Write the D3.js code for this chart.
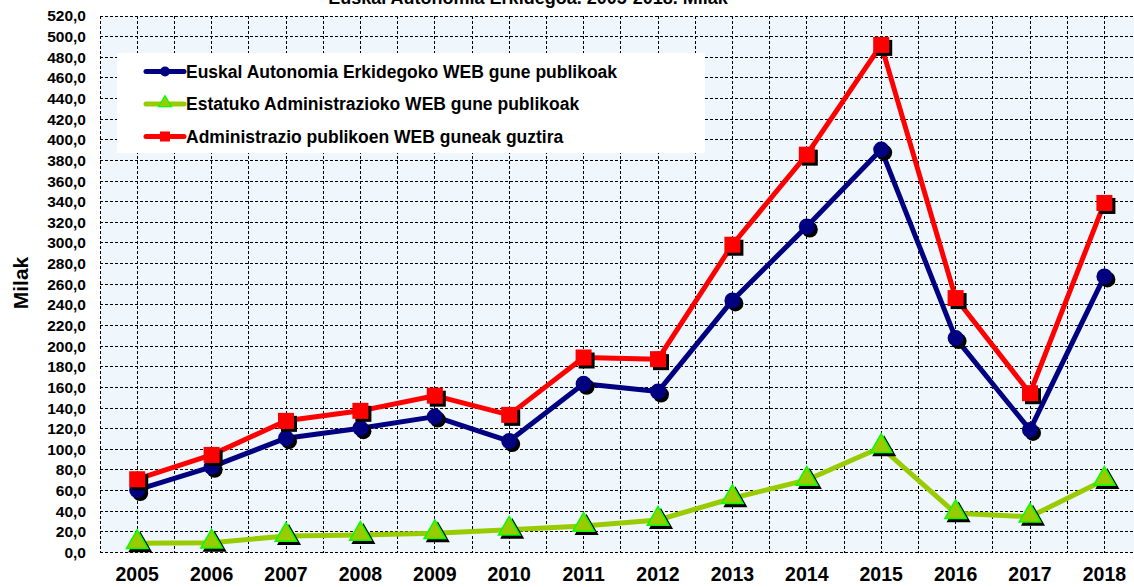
<!DOCTYPE html>
<html>
<head>
<meta charset="utf-8">
<script src="https://cdn.jsdelivr.net/npm/d3@7"></script>
<style>
  body { margin: 0; background: #fff; }
  svg { font-family: "Liberation Sans", Arial, sans-serif; font-weight: bold; }
</style>
</head>
<body>
<div id="chart"></div>
<script>
let years = ["2005", "2006", "2007", "2008", "2009", "2010", "2011", "2012", "2013", "2014", "2015", "2016", "2017", "2018"];
let euskal = [60.6, 83, 110.8, 120.5, 131.7, 108, 163.5, 156, 244.3, 316, 390.5, 207.8, 118.8, 267.6];
let estatuko = [9, 9.5, 16, 17, 18.6, 22, 25.7, 31.5, 52.6, 70.3, 102, 38, 34.7, 70.3];
let guztira = [71, 94.6, 127.6, 137.3, 152, 133.4, 189, 187.4, 298.3, 385.6, 492, 246.6, 154.4, 338.8];
let seriesNames = [
  "Euskal Autonomia Erkidegoko WEB gune publikoak",
  "Estatuko Administrazioko WEB gune publikoak",
  "Administrazio publikoen WEB guneak guztira"
];
let yTicks = d3.range(0, 521, 20);

let svgWidth = 1134;
let svgHeight = 587;

let margin = { top: 16, left: 100 };
let plotRight = 1141.6;
let plotBottom = 552.5;

let svg = d3.select("#chart").append("svg")
  .attr("width", svgWidth)
  .attr("height", svgHeight);

// scales
let xScale = d3.scaleBand()
  .domain(years)
  .range([margin.left, plotRight]);

let yScale = d3.scaleLinear()
  .domain([0, 520])
  .range([plotBottom, margin.top]);

let xc = d => xScale(d) + xScale.bandwidth() / 2;

// plot background
svg.append("rect")
  .attr("x", margin.left)
  .attr("y", margin.top)
  .attr("width", plotRight - margin.left)
  .attr("height", plotBottom - margin.top)
  .attr("fill", "#eff7fd");

// horizontal grid
svg.append("g").selectAll("line")
  .data(yTicks)
  .enter().append("line")
  .attr("x1", margin.left).attr("x2", plotRight)
  .attr("y1", d => yScale(d)).attr("y2", d => yScale(d))
  .attr("stroke", "#000").attr("stroke-width", 1)
  .attr("stroke-dasharray", "3,2")
  .attr("shape-rendering", "crispEdges");

// vertical grid: category edges and centers
let vLines = [];
years.forEach(y => { vLines.push(xScale(y)); vLines.push(xc(y)); });
vLines.push(plotRight);
svg.append("g").selectAll("line")
  .data(vLines)
  .enter().append("line")
  .attr("x1", d => d).attr("x2", d => d)
  .attr("y1", margin.top).attr("y2", plotBottom)
  .attr("stroke", "#000").attr("stroke-width", 1)
  .attr("stroke-dasharray", "3,2")
  .attr("shape-rendering", "crispEdges");

// y axis labels
let yAxis = d3.axisLeft(yScale)
  .tickValues(yTicks)
  .tickSize(0)
  .tickPadding(14)
  .tickFormat(d => d3.format(".1f")(d).replace(".", ","));
let yAxisG = svg.append("g")
  .attr("transform", `translate(${margin.left},0)`)
  .call(yAxis);
yAxisG.select(".domain").remove();
yAxisG.selectAll("text")
  .attr("font-size", 15.5).attr("font-weight", "bold")
  .attr("font-family", "Liberation Sans, Arial, sans-serif")
  .attr("fill", "#000");

// x axis labels
let xAxis = d3.axisBottom(xScale).tickSize(0).tickPadding(15);
let xAxisG = svg.append("g")
  .attr("transform", `translate(0,${plotBottom})`)
  .call(xAxis);
xAxisG.select(".domain").remove();
xAxisG.selectAll("text")
  .attr("font-size", 19.5).attr("font-weight", "bold")
  .attr("font-family", "Liberation Sans, Arial, sans-serif")
  .attr("fill", "#000");

// y axis title
svg.append("text")
  .attr("transform", "translate(28,283) rotate(-90)")
  .attr("text-anchor", "middle")
  .attr("font-size", 21)
  .text("Milak");

// chart title (cut at top, as in the original)
svg.append("text")
  .attr("x", 528).attr("y", 4)
  .attr("text-anchor", "middle")
  .attr("font-size", 18)
  .text("Euskal Autonomia Erkidegoa. 2005-2018. Milak");

let line = d3.line()
  .x((d, i) => xc(years[i]))
  .y(d => yScale(d));

let triangle = d3.symbol().type(d3.symbolTriangle).size(200);

function drawSeries(values, color, marker) {
  let g = svg.append("g");
  g.append("path")
    .datum(values)
    .attr("d", line)
    .attr("fill", "none")
    .attr("stroke", color)
    .attr("stroke-width", 5)
    .attr("stroke-linejoin", "round");
  // shadows
  values.forEach((v, i) => {
    let x = xc(years[i]), y = yScale(v);
    marker(g, x + 3, y + 3, "#000", true);
  });
  values.forEach((v, i) => {
    let x = xc(years[i]), y = yScale(v);
    marker(g, x, y, color, false);
  });
}

function circleMarker(g, x, y, fill) {
  g.append("circle").attr("cx", x).attr("cy", y).attr("r", 8).attr("fill", fill);
}
function squareMarker(g, x, y, fill) {
  g.append("rect").attr("x", x - 8).attr("y", y - 8)
    .attr("width", 16).attr("height", 16).attr("fill", fill);
}
function triMarker(g, x, y, fill, shadow) {
  g.append("path").attr("d", triangle)
    .attr("transform", `translate(${x},${y - 1})`)
    .attr("fill", shadow ? "#000" : "#99cc00")
    .attr("stroke", shadow ? "#000" : "#00ff00")
    .attr("stroke-width", 1.5);
}

drawSeries(estatuko, "#99cc00", triMarker);
drawSeries(euskal, "#000080", circleMarker);
drawSeries(guztira, "#ff0000", squareMarker);

// legend
let legend = svg.append("g");
legend.append("rect")
  .attr("x", 117).attr("y", 53)
  .attr("width", 588).attr("height", 100)
  .attr("fill", "#fff");

let legendRows = [
  { name: seriesNames[0], color: "#000080", mark: "circle" },
  { name: seriesNames[1], color: "#99cc00", mark: "tri" },
  { name: seriesNames[2], color: "#ff0000", mark: "square" }
];
legendRows.forEach((r, i) => {
  let cy = 71.5 + i * 32.5;
  legend.append("line")
    .attr("x1", 146).attr("x2", 184)
    .attr("y1", cy).attr("y2", cy)
    .attr("stroke", r.color).attr("stroke-width", 5)
    .attr("stroke-linecap", "round");
  if (r.mark === "circle") {
    legend.append("circle").attr("cx", 165).attr("cy", cy).attr("r", 5).attr("fill", r.color);
  } else if (r.mark === "square") {
    legend.append("rect").attr("x", 160).attr("y", cy - 5).attr("width", 10).attr("height", 10).attr("fill", r.color);
  } else {
    legend.append("path").attr("d", d3.symbol().type(d3.symbolTriangle).size(70))
      .attr("transform", `translate(165,${cy - 1})`)
      .attr("fill", "#99cc00").attr("stroke", "#00ff00").attr("stroke-width", 1.2);
  }
  legend.append("text")
    .attr("x", 186).attr("y", cy)
    .attr("dy", "0.35em")
    .attr("font-size", 17.5)
    .text(r.name);
});
</script>
</body>
</html>
